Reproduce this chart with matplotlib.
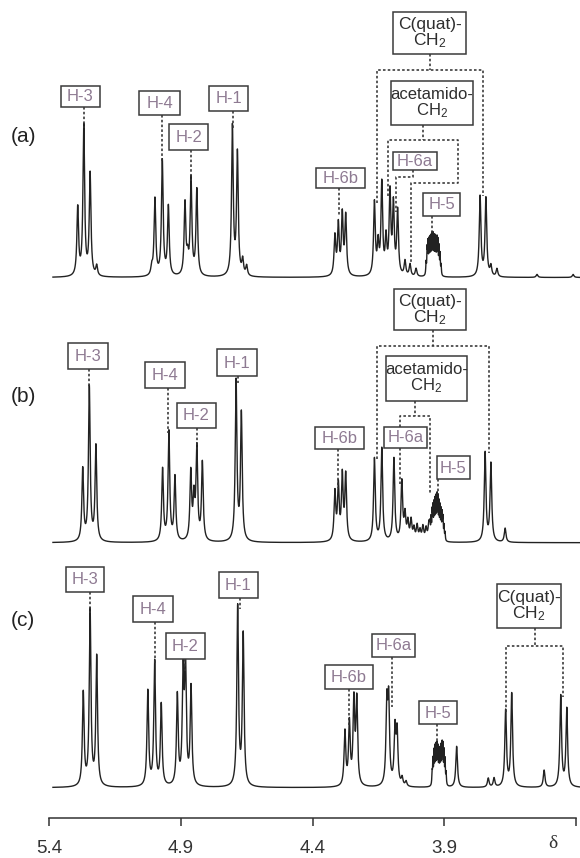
import numpy as np
import matplotlib
matplotlib.use('Agg')
import matplotlib.pyplot as plt
from matplotlib.patches import Rectangle

plt.rcParams['font.family'] = ['Liberation Sans', 'DejaVu Sans']
plt.rcParams['mathtext.fontset'] = 'custom'
plt.rcParams['mathtext.rm'] = 'Liberation Sans'
plt.rcParams['mathtext.default'] = 'regular'

# line lists: shift (ppm) and peak height
a_ppm = [5.291, 5.268, 5.244, 5.219,
         5.010, 4.998, 4.970, 4.947,
         4.884, 4.874, 4.861, 4.839,
         4.704, 4.685, 4.665, 4.650,
         4.315, 4.302, 4.287, 4.274,
         4.165, 4.151, 4.137, 4.121, 4.106, 4.093, 4.077, 4.049, 4.030, 4.007,
         3.764, 3.742, 3.723, 3.700, 3.548, 3.411]
a_int = [68, 150, 102, 10,
         8, 77, 115, 69,
         72, 15, 96, 86,
         149, 122, 15, 10,
         39, 50, 60, 59,
         73, 30, 91, 35, 81, 69, 64, 15, 12, 8,
         80, 78, 10, 8, 3, 3]
# H-5 envelope (finely split multiplet)
a_h5_ppm = [3.969, 3.965, 3.962, 3.958, 3.954, 3.950, 3.946, 3.943,
            3.939, 3.935, 3.931, 3.927, 3.924, 3.920, 3.916, 3.912]
a_h5_int = [12, 24, 29, 31, 32, 33, 33, 33, 33, 33, 32, 31, 29, 26, 20, 10]

b_ppm = [5.272, 5.247, 5.222,
         4.969, 4.945, 4.922,
         4.862, 4.850, 4.839, 4.818,
         4.690, 4.670,
         4.315, 4.302, 4.287, 4.274,
         4.165, 4.137, 4.091, 4.061,
         4.049, 4.038, 4.026, 4.015, 4.003, 3.992, 3.981, 3.969, 3.958,
         3.745, 3.723, 3.669]
b_int = [72, 154, 95,
         72, 109, 64,
         68, 40, 91, 78,
         160, 127,
         48, 54, 64, 65,
         83, 93, 83, 59,
         25, 18, 20, 12, 15, 10, 14, 12, 18,
         89, 78, 14]
b_h5_ppm = [3.954, 3.950, 3.946, 3.943, 3.939, 3.935, 3.931, 3.927,
            3.924, 3.920, 3.916, 3.912, 3.908, 3.905, 3.901, 3.897]
b_h5_int = [10, 18, 24, 28, 32, 35, 37, 37, 35, 33, 30, 27, 24, 20, 14, 8]

c_ppm = [5.270, 5.244, 5.219,
         5.025, 4.999, 4.974,
         4.913, 4.891, 4.882, 4.861,
         4.684, 4.663,
         4.277, 4.260, 4.243, 4.232,
         4.118, 4.111, 4.087, 4.079, 4.060, 4.045,
         3.853, 3.733, 3.711,
         3.667, 3.644, 3.521, 3.458, 3.435]
c_int = [93, 175, 129,
         95, 124, 81,
         90, 110, 115, 98,
         179, 151,
         54, 62, 83, 84,
         78, 81, 55, 52, 8, 5,
         41, 9, 9,
         76, 93, 17, 91, 78]
c_h5_ppm = [3.946, 3.943, 3.939, 3.935, 3.931, 3.927, 3.924, 3.920,
            3.916, 3.912, 3.908, 3.905, 3.901, 3.897, 3.893]
c_h5_int = [12, 24, 31, 34, 35, 34, 31, 29, 31, 34, 35, 34, 31, 24, 12]

ticks = [5.4, 4.9, 4.4, 3.9, 3.4]
tick_labels = ['5.4', '4.9', '4.4', '3.9', '']

W, H = 580, 858
PX = 263.5           # pixels per ppm
hw = 1.0 / PX        # lorentzian half width, resolved lines
hw_m = 0.35 / PX     # half width inside the H-5 multiplets

fig = plt.figure(figsize=(5.8, 8.58), dpi=100)
ax = fig.add_axes([0, 0, 1, 1])
xl = (5.4 + 49 / PX, 5.4 - 531 / PX)
ax.set_xlim(*xl)
ax.set_ylim(H, 0)
ax.axis('off')

x = np.linspace(5.385, 3.385, 14000)


def trace(ppm, inten, g):
    y = np.zeros_like(x)
    for p, h in zip(ppm, inten):
        y += h / (1 + ((x - p) / g) ** 2)
    return y


spectra = [(a_ppm, a_int, a_h5_ppm, a_h5_int, 277.5),
           (b_ppm, b_int, b_h5_ppm, b_h5_int, 542.7),
           (c_ppm, c_int, c_h5_ppm, c_h5_int, 787.7)]
for ppm, inten, mp, mi, base in spectra:
    y = trace(ppm, inten, hw) + trace(mp, mi, hw_m)
    ax.plot(x, base - y, color='#222222', lw=1.0)

# shift axis
ax2 = fig.add_axes([0, (H - 818) / H, 1, 0.001])
ax2.set_xlim(*xl)
for s in ['top', 'left', 'right']:
    ax2.spines[s].set_visible(False)
ax2.spines['bottom'].set_bounds(3.4, 5.4)
ax2.spines['bottom'].set_color('#333333')
ax2.spines['bottom'].set_linewidth(1.1)
ax2.set_yticks([])
ax2.set_xticks(ticks)
ax2.set_xticklabels(tick_labels)
ax2.tick_params(axis='x', direction='out', length=6, width=1.1, colors='#333333',
                labelsize=13.5, pad=10)
ax2.patch.set_alpha(0)

# annotation layer in pixel coordinates
lay = fig.add_axes([0, 0, 1, 1], zorder=3)
lay.set_xlim(0, W)
lay.set_ylim(H, 0)
lay.axis('off')
lay.patch.set_alpha(0)

lab_col = '#8e7a92'
dark = '#2e2e2e'


def box(cx, cy, w, h, s, col=lab_col, fs=12):
    lay.add_patch(Rectangle((cx - w / 2, cy - h / 2), w, h, fc='white', ec='#3a3a3a', lw=1.1, zorder=4))
    lay.text(cx, cy + 0.5, s, ha='center', va='center', color=col, fontsize=fs, zorder=5,
             linespacing=0.95)


def lead(pts):
    xs, ys = zip(*pts)
    lay.plot(xs, ys, color='#333333', lw=1.15, ls=(0, (1.6, 1.4)), zorder=3)


for t, yy in [('(a)', 137), ('(b)', 397), ('(c)', 620)]:
    lay.text(23, yy, t, ha='center', va='center', fontsize=15, color='#222222')

lay.text(553, 843, 'δ', ha='center', va='center', fontsize=14, color='#333333',
         family=['Liberation Serif', 'DejaVu Serif'])

qfs = 12.5

# (a)
box(80.3, 96.3, 39.3, 20.7, 'H-3'); lead([(83.7, 106.7), (83.7, 128)])
box(159.5, 102.8, 41, 24.3, 'H-4'); lead([(162.3, 115), (162.3, 161)])
box(188.7, 137, 39.3, 26, 'H-2'); lead([(191, 150), (191, 181)])
box(228.8, 98.2, 39, 25, 'H-1'); lead([(233, 110.7), (233, 128)])
box(340.5, 178.3, 49, 20, 'H-6b'); lead([(339.3, 188.3), (339.3, 216)])
box(415, 160.8, 43.3, 18.3, 'H-6a'); lead([(413.3, 170), (413.3, 176.7), (396, 176.7), (396, 212)])
box(441.7, 204.3, 36.7, 23.3, 'H-5'); lead([(431.7, 216), (431.7, 234)])
box(429.7, 32.8, 72.7, 42.3, 'C(quat)-\nCH$_2$', dark, qfs)
lead([(430, 54), (430, 70)])
lead([(376.7, 203), (376.7, 70), (482.7, 70), (482.7, 196)])
box(431.7, 102.8, 82, 44.3, 'acetamido-\nCH$_2$', dark, 12)
lead([(423.3, 125), (423.3, 140)])
lead([(388.3, 196), (388.3, 140), (457.7, 140), (457.7, 183.3), (411, 183.3), (411, 263)])

# (b)
box(87.7, 356, 40, 26.6, 'H-3'); lead([(89.3, 369.3), (89.3, 388)])
box(165, 375.3, 40, 26, 'H-4'); lead([(168.3, 388.3), (168.3, 433)])
box(196.3, 415.5, 39.3, 25.6, 'H-2'); lead([(196.7, 428.3), (196.7, 451.7)])
box(236.7, 362.7, 40, 26.7, 'H-1'); lead([(238, 376), (238, 383)])
box(339.5, 438, 49, 22.6, 'H-6b'); lead([(338.3, 449.3), (338.3, 488)])
box(430, 309.7, 72, 40.7, 'C(quat)-\nCH$_2$', dark, qfs)
lead([(432.7, 330), (432.7, 346)])
lead([(376.7, 459), (376.7, 346), (489.3, 346), (489.3, 453)])
box(426.2, 378.3, 81, 44.7, 'acetamido-\nCH$_2$', dark, 12)
lead([(415, 400.7), (415, 415.7)])
lead([(400, 426.7), (400, 415.7), (430, 415.7), (430, 494)])
box(405.3, 437.5, 42.7, 21.6, 'H-6a'); lead([(400, 448.3), (400, 484)])
box(453.3, 467.7, 33.3, 23.3, 'H-5'); lead([(438, 479.3), (438, 494)])

# (c)
box(85, 579.5, 38, 25.6, 'H-3'); lead([(90, 592.3), (90, 613)])
box(153, 609, 39.3, 26.7, 'H-4'); lead([(154.7, 622.3), (154.7, 664)])
box(185.3, 646, 39.3, 26.3, 'H-2'); lead([(185, 659.2), (185, 672)])
box(238.3, 585, 38.7, 26, 'H-1'); lead([(240, 598), (240, 609)])
box(349, 677, 48.3, 24, 'H-6b'); lead([(349, 689), (349, 725)])
box(393.3, 645.3, 43.3, 22.7, 'H-6a'); lead([(392, 656.7), (392, 707)])
box(438, 712.5, 37.3, 23.3, 'H-5'); lead([(436.7, 724.2), (436.7, 742)])
box(529, 606, 63.3, 44, 'C(quat)-\nCH$_2$', dark, qfs)
lead([(535, 628), (535, 646)])
lead([(505.7, 712), (505.7, 646), (563.3, 646), (563.3, 697)])

fig.savefig('out.png', dpi=100, facecolor='white')
